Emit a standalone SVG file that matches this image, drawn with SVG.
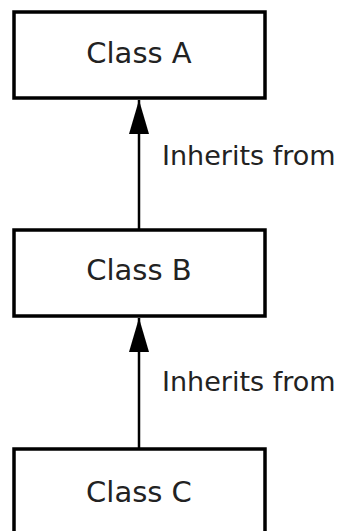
<svg xmlns="http://www.w3.org/2000/svg" width="340" height="531" viewBox="0 0 340 531">
<style>
.box{fill:#fff;stroke:#000;stroke-width:3.5}
.lbl{font-family:"DejaVu Sans","Liberation Sans",sans-serif;font-size:29px;fill:#222;text-anchor:middle}
.edge{font-family:"DejaVu Sans","Liberation Sans",sans-serif;font-size:27px;fill:#222}
.conn{stroke:#000;stroke-width:2.5;fill:none}
</style>
<defs>
<marker id="arr" markerUnits="userSpaceOnUse" markerWidth="36" markerHeight="22" refX="34" refY="10" orient="auto">
<path d="M0,0 L34,10 L0,20 Z" fill="#000"/>
</marker>
</defs>
<rect width="340" height="531" fill="#fff"/>
<g id="connectors">
<line class="conn" x1="139" y1="230" x2="139" y2="100" marker-end="url(#arr)"/>
<line class="conn" x1="139" y1="448" x2="139" y2="318" marker-end="url(#arr)"/>
<text class="edge" x="162" y="165">Inherits from</text>
<text class="edge" x="162" y="391">Inherits from</text>
</g>
<g id="classA">
<rect class="box" x="14" y="12" width="251" height="86"/>
<text class="lbl" x="139" y="63">Class A</text>
</g>
<g id="classB">
<rect class="box" x="14" y="230" width="251" height="86"/>
<text class="lbl" x="139" y="280">Class B</text>
</g>
<g id="classC">
<rect class="box" x="14" y="449" width="251" height="100"/>
<text class="lbl" x="139" y="502">Class C</text>
</g>
</svg>
